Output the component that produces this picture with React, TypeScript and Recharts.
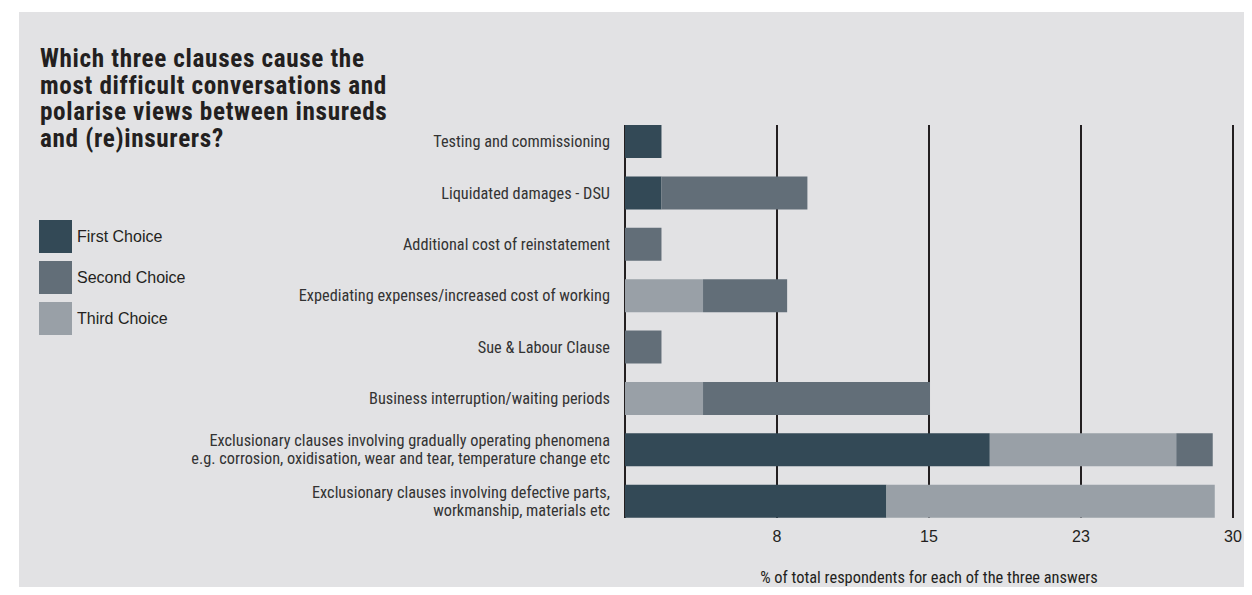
import { BarChart, Bar, XAxis, YAxis, CartesianGrid } from 'recharts';

const clauses = [
  'Testing and commissioning',
  'Liquidated damages - DSU',
  'Additional cost of reinstatement',
  'Expediating expenses/increased cost of working',
  'Sue & Labour Clause',
  'Business interruption/waiting periods',
  'Exclusionary clauses involving gradually operating phenomena\ne.g. corrosion, oxidisation, wear and tear, temperature change etc',
  'Exclusionary clauses involving defective parts,\nworkmanship, materials etc',
];

const firstChoice = [1.8, 1.8, 0, 0, 0, 0, 18, 12.9];
const secondChoice = [0, 7.2, 1.8, 4.15, 1.8, 11.2, 1.8, 0];
const thirdChoice = [0, 0, 0, 3.85, 0, 3.85, 9.2, 16.2];

const xTicks = [0, 7.5, 15, 22.5, 30];

const titleLines = [
  'Which three clauses cause the',
  'most difficult conversations and',
  'polarise views between insureds',
  'and (re)insurers?',
];

const series = [
  { key: 'first', name: 'First Choice', color: '#334956' },
  { key: 'second', name: 'Second Choice', color: '#626e78' },
  { key: 'third', name: 'Third Choice', color: '#99a0a7' },
];

const data = clauses.map((c, i) => ({
  clause: c,
  first: firstChoice[i],
  second: secondChoice[i],
  third: thirdChoice[i],
}));

const NARROW = '"Liberation Sans Narrow", "Roboto Condensed", "Arial Narrow", sans-serif';
const SANS = '"Liberation Sans", Arial, sans-serif';

const ClauseTick = (props: any) => {
  const { x, y, payload } = props;
  const lines = String(payload.value).split('\n');
  const lh = 18;
  const start = -((lines.length - 1) * lh) / 2;
  return (
    <text x={x} y={y} textAnchor="end" fill="#333" fontSize={16.3} fontFamily={NARROW}>
      {lines.map((l, i) => (
        <tspan key={i} x={x} dy={i === 0 ? start + 5.5 : lh}>{l}</tspan>
      ))}
    </text>
  );
};

const App = () => {
  return (
    <div style={{ position: 'relative', margin: -8, width: 1252, height: 595, background: '#fff', overflow: 'hidden' }}>
      <div style={{ position: 'absolute', left: 19, top: 12, width: 1233, height: 583, background: '#e2e2e4' }} />
      <div
        style={{
          position: 'absolute', left: 40, top: 46, whiteSpace: 'nowrap',
          fontFamily: NARROW, fontWeight: 'bold', fontSize: 25.2, letterSpacing: 0.65,
          lineHeight: '26.7px', color: '#231f20',
        }}
      >
        {titleLines.map((t) => (
          <div key={t}>{t}</div>
        ))}
      </div>
      <div style={{ position: 'absolute', left: 39, top: 220 }}>
        {series.map((s) => (
          <div key={s.key} style={{ display: 'flex', alignItems: 'center', height: 33, marginBottom: 8 }}>
            <div style={{ width: 33, height: 33, background: s.color }} />
            <span style={{ marginLeft: 5, fontFamily: SANS, fontSize: 16, color: '#231f20' }}>{s.name}</span>
          </div>
        ))}
      </div>
      <div style={{ position: 'absolute', left: 0, top: 0 }}>
        <BarChart
          width={1252}
          height={595}
          data={data}
          layout="vertical"
          margin={{ top: 125, right: 19, bottom: 0, left: 0 }}
        >
          <CartesianGrid horizontal={false} stroke="#231f20" strokeWidth={2} />
          <XAxis
            type="number"
            domain={[0, 30]}
            ticks={xTicks}
            tickFormatter={(v: number) => (v === 0 ? '' : String(Math.round(v)))}
            axisLine={false}
            tickLine={false}
            tickSize={0}
            tickMargin={13}
            height={77}
            tick={{ fill: '#231f20', fontSize: 16, fontFamily: SANS }}
            label={{
              value: '% of total respondents for each of the three answers',
              position: 'insideBottom',
              offset: 12,
              fill: '#231f20',
              fontSize: 16.4,
              fontFamily: NARROW,
            }}
          />
          <YAxis
            type="category"
            dataKey="clause"
            width={625}
            axisLine={false}
            tickLine={false}
            tickSize={0}
            tickMargin={15}
            padding={{ top: -9, bottom: -9 }}
            interval={0}
            tick={<ClauseTick />}
          />
          <Bar dataKey="first" stackId="a" fill="#334956" barSize={33} isAnimationActive={false} />
          <Bar dataKey="third" stackId="a" fill="#99a0a7" barSize={33} isAnimationActive={false} />
          <Bar dataKey="second" stackId="a" fill="#626e78" barSize={33} isAnimationActive={false} />
        </BarChart>
      </div>
    </div>
  );
};

export default App;
